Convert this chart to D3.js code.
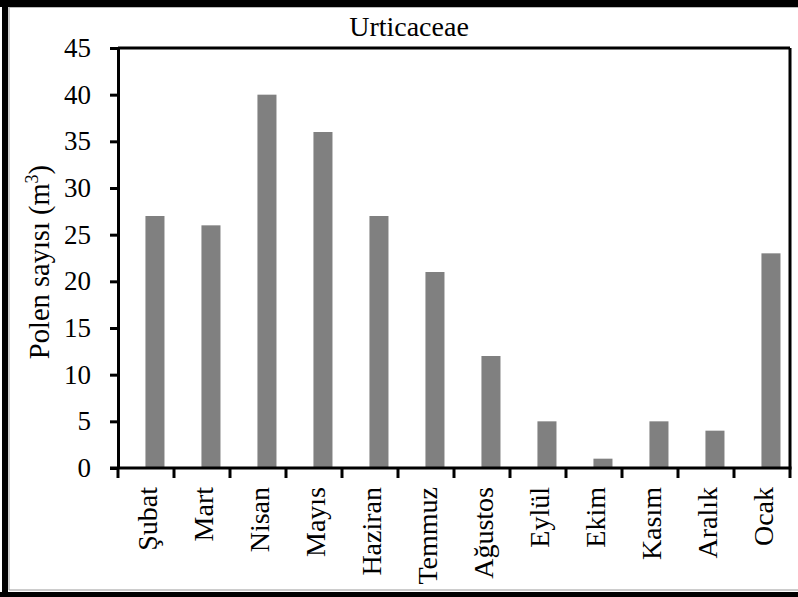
<!DOCTYPE html>
<html><head><meta charset="utf-8">
<script src="https://cdn.jsdelivr.net/npm/d3@7"></script>
<style>body{margin:0;background:#fff}svg{display:block}
svg text{font-family:"Liberation Serif","Times New Roman",Times,"DejaVu Serif",serif}</style>
</head><body>
<script>
const categories = ["Şubat","Mart","Nisan","Mayıs","Haziran","Temmuz","Ağustos","Eylül","Ekim","Kasım","Aralık","Ocak"];
const values = [27,26,40,36,27,21,12,5,1,5,4,23];
const yTicks = [0,5,10,15,20,25,30,35,40,45];
const title = "Urticaceae";

const W=798,H=597;
const svg=d3.select("body").append("svg").attr("width",W).attr("height",H);

// outer frame
svg.append("rect").attr("x",0).attr("y",0).attr("width",W).attr("height",7).attr("fill","#000");
svg.append("rect").attr("x",2).attr("y",0).attr("width",6).attr("height",H).attr("fill","#000");
svg.append("rect").attr("x",0).attr("y",592).attr("width",W).attr("height",5).attr("fill","#000");
svg.append("line").attr("x1",9).attr("x2",W).attr("y1",590).attr("y2",590).attr("stroke","#999").attr("stroke-width",1);
svg.append("line").attr("x1",9).attr("x2",9).attr("y1",7).attr("y2",590).attr("stroke","#999").attr("stroke-width",1);
svg.append("line").attr("x1",9).attr("x2",W).attr("y1",7.5).attr("y2",7.5).attr("stroke","#bbb").attr("stroke-width",1);

const L=118,R=790,T=48,B=468;
const x=d3.scaleBand().domain(categories).range([L,R]);
const y=d3.scaleLinear().domain([0,45]).range([B,T]);
const bw=x.bandwidth();

svg.selectAll(".bar").data(values).enter().append("rect")
  .attr("x",(d,i)=>x(categories[i])+bw*0.49)
  .attr("width",bw*0.34)
  .attr("y",d=>y(d)).attr("height",d=>B-y(d))
  .attr("fill","#808080");

// plot box top & right
svg.append("line").attr("x1",L).attr("x2",R).attr("y1",T).attr("y2",T).attr("stroke","#000").attr("stroke-width",3);
svg.append("line").attr("x1",R).attr("x2",R).attr("y1",T).attr("y2",B).attr("stroke","#000").attr("stroke-width",3);

// y axis
const ya=svg.append("g").attr("transform",`translate(${L},0)`)
  .call(d3.axisLeft(y).tickValues(yTicks).tickSize(8).tickSizeOuter(0).tickPadding(19));
ya.attr("font-family",null);
ya.select(".domain").attr("stroke-width",3);
ya.selectAll(".tick line").attr("stroke-width",3);
ya.selectAll("text").attr("font-size",27).attr("fill","#000");

// x axis with ticks at band boundaries
const xa=svg.append("g").attr("transform",`translate(0,${B})`);
xa.append("line").attr("x1",L-8).attr("x2",R+1.5).attr("y1",0).attr("y2",0).attr("stroke","#000").attr("stroke-width",3);
const bounds=categories.map(c=>x(c)).concat([R]);
xa.selectAll(".xt").data(bounds).enter().append("line")
  .attr("x1",d=>d).attr("x2",d=>d).attr("y1",0).attr("y2",10).attr("stroke","#000").attr("stroke-width",3);
xa.selectAll(".xl").data(categories).enter().append("text")
  .attr("transform",d=>`translate(${x(d)+bw/2+1},19) rotate(-90)`)
  .attr("text-anchor","end").attr("dy","0.35em")
  .attr("font-size",28).attr("fill","#000")
  .text(d=>d);

// title
svg.append("text").attr("x",409).attr("y",36).attr("text-anchor","middle")
  .attr("font-size",28).attr("fill","#000").text(title);

// y title
const yt=svg.append("text").attr("transform","translate(49,262) rotate(-90)").attr("text-anchor","middle")
  .attr("font-size",28.5).attr("fill","#000");
yt.append("tspan").text("Polen sayısı (m");
yt.append("tspan").attr("font-size",18).attr("dy",-11).text("3");
yt.append("tspan").attr("dy",11).text(")");
</script>
</body></html>
